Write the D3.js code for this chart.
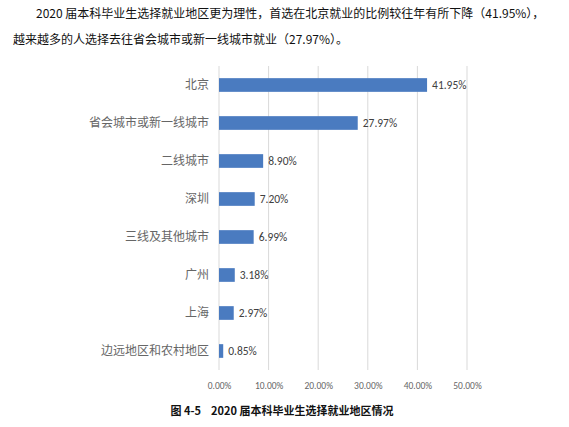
<!DOCTYPE html>
<html><head><meta charset="utf-8">
<script src="https://cdn.jsdelivr.net/npm/d3@7"></script>
<style>body{margin:0;background:#fff}</style>
</head><body>
<svg id="c" width="569" height="427"></svg>
<script>
const categories = ["北京","省会城市或新一线城市","二线城市","深圳","三线及其他城市","广州","上海","边远地区和农村地区"];
const values = [41.95,27.97,8.90,7.20,6.99,3.18,2.97,0.85];
const tickValues = [0,10,20,30,40,50];
const titleLines = ["2020 届本科毕业生选择就业地区更为理性，首选在北京就业的比例较往年有所下降（41.95%），","越来越多的人选择去往省会城市或新一线城市就业（27.97%）。"];
const caption = "图 4-5    2020 届本科毕业生选择就业地区情况";

const svg = d3.select("#c");
const sans = "'Noto Sans CJK SC','Noto Sans',sans-serif";
svg.append("text").attr("x",36).attr("y",18).attr("font-size",12).attr("fill","#111").attr("font-family",sans).text(titleLines[0]);
svg.append("text").attr("x",13).attr("y",44).attr("font-size",12).attr("fill","#111").attr("font-family",sans).text(titleLines[1]);

const x = d3.scaleLinear().domain([0,50]).range([219,467]);
const y = d3.scaleBand().domain(categories).range([66,370]).paddingInner(0.64).paddingOuter(0.32);

svg.append("g").selectAll("line").data(tickValues).join("line")
  .attr("x1",d=>x(d)).attr("x2",d=>x(d)).attr("y1",66).attr("y2",370)
  .attr("stroke","#d9d9d9").attr("stroke-width",1);

svg.append("g").selectAll("rect").data(values).join("rect")
  .attr("x",x(0)).attr("y",(d,i)=>y(categories[i])).attr("width",d=>x(d)-x(0)).attr("height",y.bandwidth())
  .attr("fill","#4A7BC0");

svg.append("g").selectAll("text").data(values).join("text")
  .attr("x",d=>x(d)+5).attr("y",(d,i)=>y(categories[i])+y.bandwidth()/2).attr("dy","0.35em")
  .attr("font-size",11.5).attr("fill","#404040").attr("font-family","'Carlito','Liberation Sans',sans-serif")
  .text(d=>d.toFixed(2)+"%");

const yAxis = svg.append("g").attr("transform","translate(209,0)").call(d3.axisLeft(y).tickSize(0).tickPadding(0));
yAxis.select(".domain").remove();
yAxis.selectAll("text").attr("font-size",12).attr("fill","#666").attr("font-family",sans);

const xAxis = svg.append("g").attr("transform","translate(0,376)").call(d3.axisBottom(x).tickValues(tickValues).tickSize(0).tickPadding(6).tickFormat(d=>d.toFixed(2)+"%"));
xAxis.select(".domain").remove();
xAxis.selectAll("text").attr("font-size",9.5).attr("fill","#666").attr("font-family","'Carlito','Liberation Sans',sans-serif");

svg.append("text").attr("x",282).attr("y",415).attr("text-anchor","middle").attr("font-size",11).attr("font-weight","bold").attr("fill","#111").attr("font-family",sans).style("white-space","pre").text(caption);
</script>
</body></html>
